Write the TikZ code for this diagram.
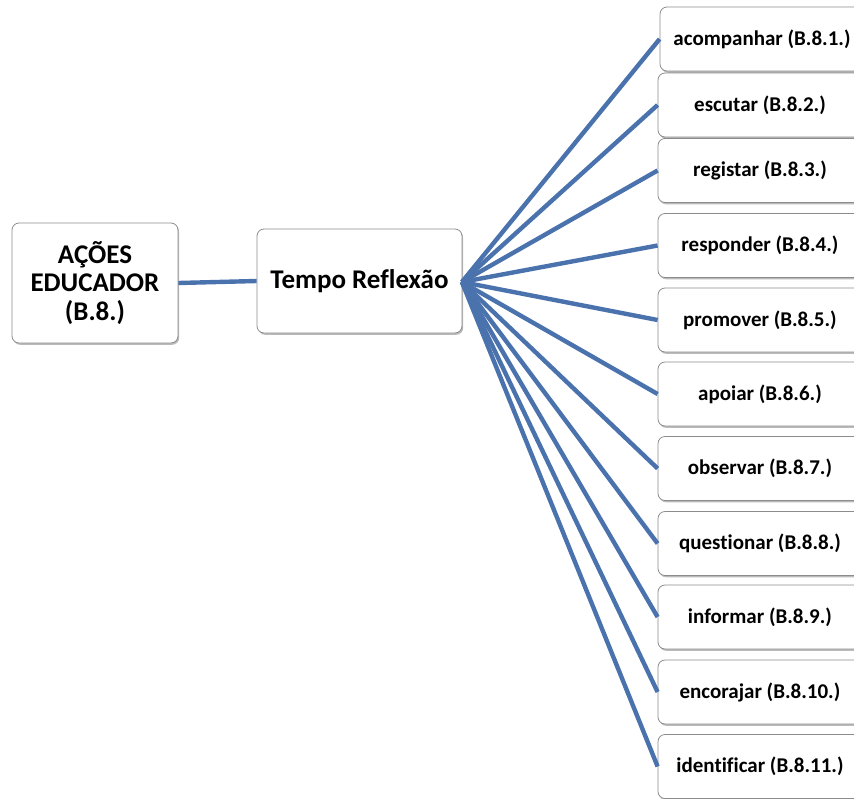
\documentclass[tikz,border=0pt]{standalone}
\usepackage{fontspec}
\setmainfont{Carlito}[Ligatures=CommonOff]
\usetikzlibrary{shadows}
\definecolor{linkblue}{HTML}{4A72AD}
\definecolor{boxedge}{HTML}{8C8C8C}
\tikzset{
  card/.style={draw=boxedge, line width=0.8pt, fill=white, rounded corners=7pt,
    align=center, font=\bfseries, inner sep=0pt,
    drop shadow={shadow xshift=1.2pt, shadow yshift=-1.8pt, opacity=0.45, fill=black!60}},
  leaf/.style={card, minimum width=204pt, minimum height=64pt, font=\bfseries\fontsize{21}{25}\selectfont},
  link/.style={draw=linkblue, line width=4.4pt}
}
\begin{document}
\begin{tikzpicture}[x=1pt,y=-1pt]
\useasboundingbox (0,0) rectangle (854,798);

% root and middle cards
\node[card, minimum width=166pt, minimum height=120pt,
      font=\bfseries\fontsize{27}{28.5}\selectfont] (root) at (95,283) {AÇÕES\\EDUCADOR\\(B.8.)};
\node[card, minimum width=205pt, minimum height=104pt,
      font=\bfseries\fontsize{27}{30}\selectfont] (mid) at (359.5,281) {Tempo Reflexão};

% leaf cards
\node[leaf] (a1)  at (762,39)    {acompanhar (B.8.1.)};
\node[leaf] (a2)  at (760,105)   {escutar (B.8.2.)};
\node[leaf] (a3)  at (760,170.5) {registar (B.8.3.)};
\node[leaf] (a4)  at (760,245.5) {responder (B.8.4.)};
\node[leaf] (a5)  at (760,320)   {promover (B.8.5.)};
\node[leaf] (a6)  at (760,394)   {apoiar (B.8.6.)};
\node[leaf] (a7)  at (760,468.5) {observar (B.8.7.)};
\node[leaf] (a8)  at (760,543.5) {questionar (B.8.8.)};
\node[leaf] (a9)  at (760,617)   {informar (B.8.9.)};
\node[leaf] (a10) at (760,692)   {encorajar (B.8.10.)};
\node[leaf] (a11) at (760,766.5) {identificar (B.8.11.)};

% connectors
\coordinate (hub) at ([xshift=-0.5pt,yshift=-1pt]mid.east);
\draw[link] (root.east) -- (mid.west);
\foreach \k in {1,...,11}{
  \draw[link] (hub) -- (a\k.west);
}
\end{tikzpicture}
\end{document}
